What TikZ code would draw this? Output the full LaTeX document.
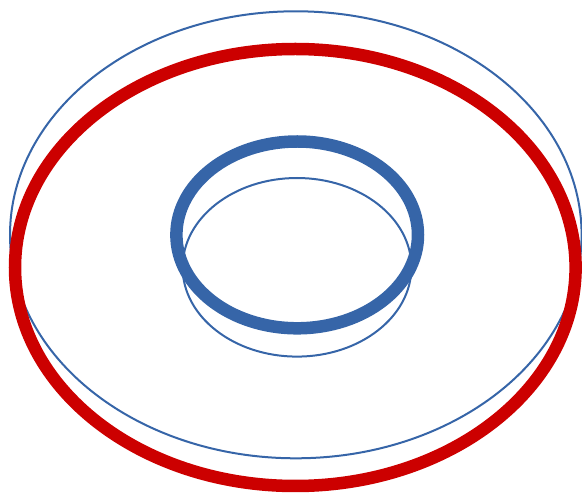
\documentclass[tikz,border=0pt]{standalone}
\definecolor{ringblue}{RGB}{54,101,168}
\definecolor{ringred}{RGB}{204,0,0}
\tikzset{
  thinring/.style={draw=ringblue, line width=2pt},
  thickblue/.style={draw=ringblue, line width=12.5pt},
  thickred/.style={draw=ringred, line width=12.5pt}
}
\begin{document}
\begin{tikzpicture}[x=1pt,y=-1pt]
\useasboundingbox (0,0) rectangle (582,494);
% outer thin blue
\draw[thinring] (295.8,234.8) ellipse [x radius=285.8, y radius=223.5];
% outer thick red
\draw[thickred] (295.3,267.5) ellipse [x radius=280.3, y radius=218.5];
% inner thick blue
\draw[thickblue] (297.2,234.9) ellipse [x radius=120.8, y radius=93.4];
% inner thin blue
\draw[thinring] (297,267.3) ellipse [x radius=114.4, y radius=89.3];
\end{tikzpicture}
\end{document}
